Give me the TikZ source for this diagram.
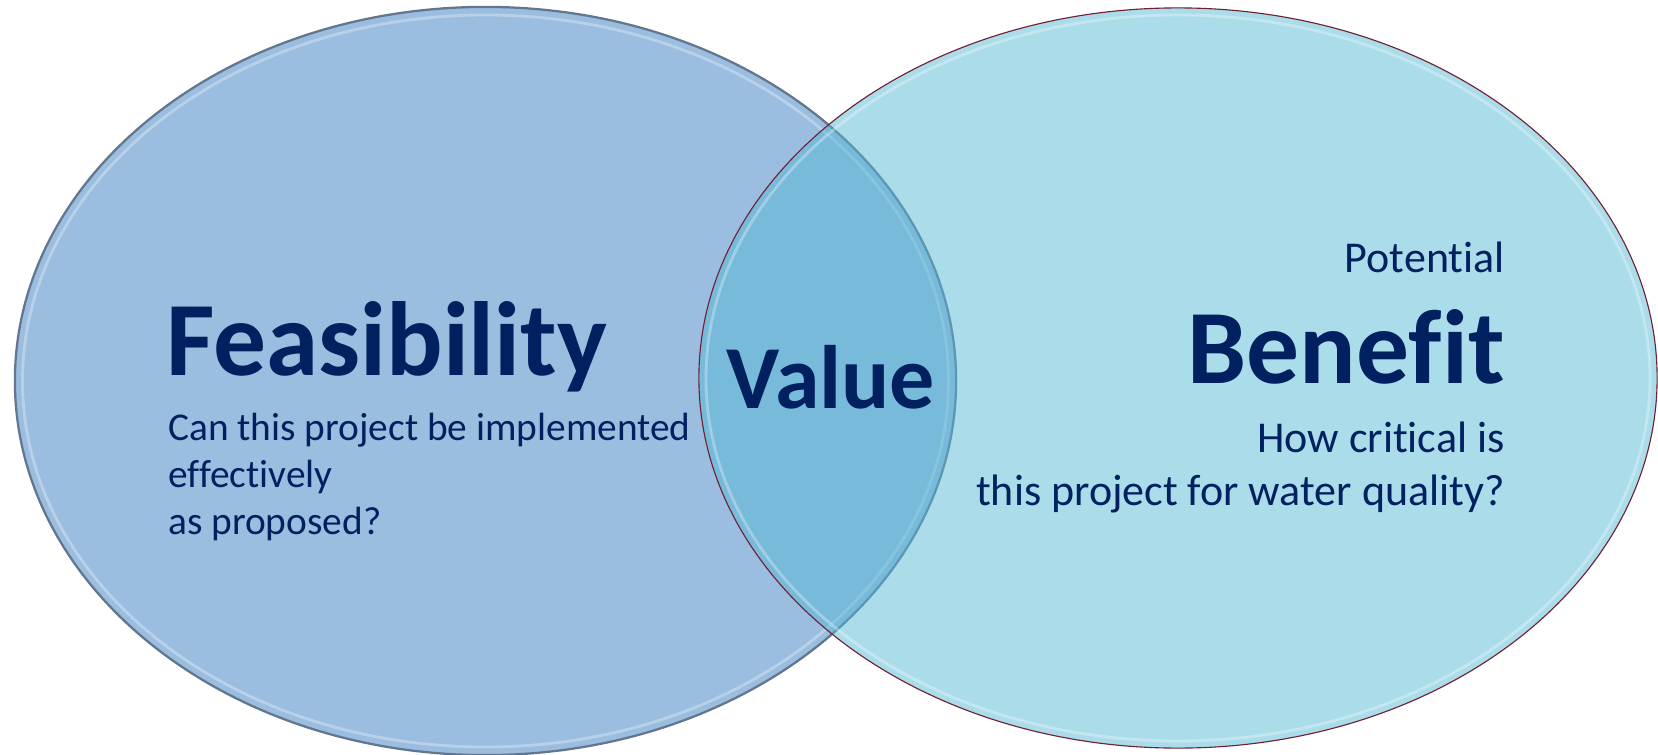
\documentclass[tikz,border=0pt]{standalone}
\usepackage{fontspec}
\setmainfont{Carlito}[Ligatures=NoCommon]
\usetikzlibrary{shapes.geometric}
\definecolor{feasfill}{RGB}{155,189,224}
\definecolor{benefill}{RGB}{87,185,213}
\definecolor{feasline}{RGB}{98,118,142}
\definecolor{beneline}{RGB}{112,32,48}
\definecolor{navy}{RGB}{0,32,96}
\tikzset{
	setshape/.style={ellipse, inner sep=0, line width=1.6pt},
	shine/.style={white, opacity=.3, line width=2pt},
	bigword/.style={text=navy, inner sep=0, font=\bfseries\fontsize{75}{82}\selectfont},
	valword/.style={text=navy, inner sep=0, font=\bfseries\fontsize{64}{70}\selectfont},
	askleft/.style={text=navy, inner sep=0, font=\fontsize{28}{33.4}\selectfont},
	askright/.style={text=navy, inner sep=0, font=\fontsize{31.3}{37.3}\selectfont}
}
\begin{document}
\begin{tikzpicture}[x=0.025cm, y=-0.025cm]
	\useasboundingbox (0,0) rectangle (1658,755);
	\node[setshape, draw=feasline, fill=feasfill, minimum width=23.525cm, minimum height=18.7cm] (feasset) at (485.5,381) {};
	\draw[shine] (feasset.center) ellipse [x radius=463, y radius=366];
	\node[setshape, draw=beneline, line width=.8pt, fill=benefill, fill opacity=.5, minimum width=23.95cm, minimum height=18.5cm] (beneset) at (1178,378) {};
	\draw[shine] (beneset.center) ellipse [x radius=472, y radius=363];

	\node[bigword, anchor=base west] (feas) at (166,375) {Feasibility};
	\node[askleft, anchor=base west, align=left] (feasq) at (168,534) {Can this project be implemented\\effectively\\as proposed?};
	\node[valword, anchor=base] (value) at (831,408) {Value};
	\node[askright, anchor=base east] (pot) at (1505,273) {Potential};
	\node[bigword, anchor=base east] (bene) at (1505,383) {Benefit};
	\node[askright, anchor=base east, align=right] (beneq) at (1505,505) {How critical is\\this project for water quality?};
\end{tikzpicture}
\end{document}
